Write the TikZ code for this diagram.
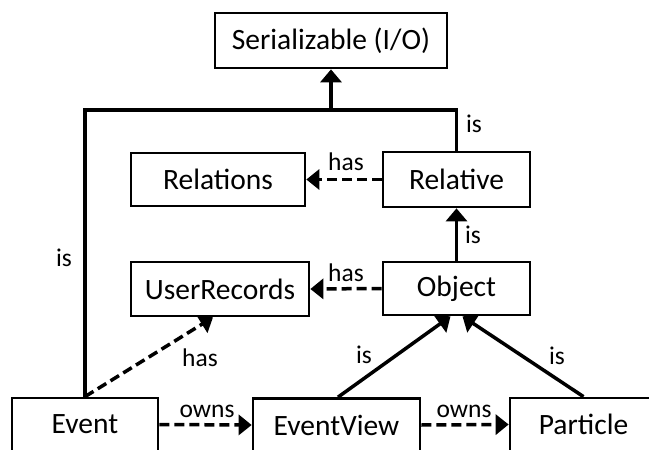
\documentclass[tikz,border=0pt]{standalone}
\usepackage{fontspec}
\setmainfont{Carlito}
\usetikzlibrary{arrows.meta,calc}
\begin{document}
\begin{tikzpicture}[x=1pt,y=-1pt,
  box/.style={draw,rectangle,line width=2.7pt,inner sep=0pt,font=\fontsize{29.5}{32}\selectfont},
  lbl/.style={inner sep=0pt,font=\fontsize{25.5}{28}\selectfont},
  conn/.style={line width=3.5pt},
  isarrow/.style={conn,-{Triangle[width=21pt,length=13pt]}},
  hasarrow/.style={conn,dash pattern=on 10pt off 5pt,-{Triangle[width=20pt,length=13pt]}}]
\useasboundingbox (0,0) rectangle (649,450);
\clip (0,0) rectangle (649,450);
% boxes
\node[box,minimum width=232pt,minimum height=55pt] (ser) at (331,40.5) {Serializable (I/O)};
\node[box,minimum width=174pt,minimum height=53pt] (relations) at (218,179.5) {Relations};
\node[box,minimum width=147pt,minimum height=55pt] (relative) at (456.5,179.5) {Relative};
\node[box,minimum width=178pt,minimum height=54pt] (userrec) at (220,289) {UserRecords};
\node[box,minimum width=147pt,minimum height=53pt] (object) at (456.5,288.5) {Object};
\node[box,minimum width=146pt,minimum height=53pt] (event) at (85,424.5) {Event};
\node[box,minimum width=167pt,minimum height=53pt] (eventview) at (336.5,425) {EventView};
\node[box,minimum width=147pt,minimum height=53pt] (particle) at (583.5,424.5) {Particle};
% junction
\coordinate (j) at (ser.south |- 0,110);
% connectors
\draw[conn] (relative.north) |- (j);
\draw[isarrow] (event.north) |- (j) -- (ser.south);
\draw[isarrow] (object.north) -- (relative.south);
\draw[hasarrow] (relative.west) -- (relations.east);
\draw[hasarrow] (object.west) -- (userrec.east);
\draw[hasarrow] (event.north) -- ([xshift=-7pt]userrec.south);
\draw[isarrow] ([xshift=1.5pt]eventview.north) -- ([xshift=-6pt]object.south);
\draw[isarrow] (particle.north) -- ([xshift=6pt]object.south);
\draw[hasarrow] (event.east) -- (eventview.west);
\draw[hasarrow] (eventview.east) -- (particle.west);
% labels
\node[lbl] (l1) at (474,124) {is};
\node[lbl] (l2) at (473,235) {is};
\node[lbl] (l3) at (64,258) {is};
\node[lbl] (l4) at (346,162) {has};
\node[lbl] (l5) at (346,273) {has};
\node[lbl] (l6) at (200,358) {has};
\node[lbl] (l7) at (364,355) {is};
\node[lbl] (l8) at (557,356) {is};
\node[lbl] (l9) at (207,411) {owns};
\node[lbl] (l10) at (464,411) {owns};
\end{tikzpicture}
\end{document}
